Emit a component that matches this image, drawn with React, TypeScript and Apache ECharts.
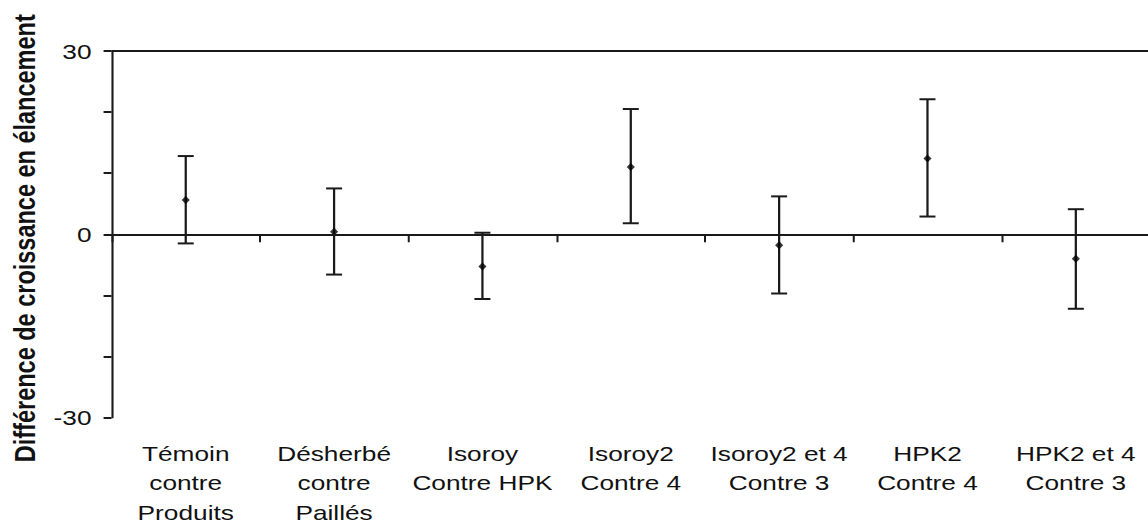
import React, { useEffect, useRef } from "react";
import * as echarts from "echarts";

const categories = [
  "Témoin\ncontre\nProduits",
  "Désherbé\ncontre\nPaillés",
  "Isoroy\nContre HPK",
  "Isoroy2\nContre 4",
  "Isoroy2 et 4\nContre 3",
  "HPK2\nContre 4",
  "HPK2 et 4\nContre 3",
];
const means = [5.6, 0.4, -5.3, 11.0, -1.8, 12.4, -4.0];
const lower = [-1.5, -6.6, -10.6, 1.8, -9.7, 2.9, -12.2];
const upper = [12.8, 7.5, 0.25, 20.5, 6.2, 22.1, 4.1];
const yTickLabels = [-30, 0, 30];
const refLines = [0, 30];
const yTitle = "Différence de croissance en élancement";

const STRETCH = 1.25;
const INK = "#1a1a1a";
const FONT = "'Liberation Sans', Arial, sans-serif";

export default function App() {
  const ref = useRef<HTMLDivElement>(null);
  useEffect(() => {
    if (!ref.current) return;
    const chart = echarts.init(ref.current, null, { renderer: "svg", width: 920, height: 527 });
    const errData = categories.map((_, i) => [i, lower[i], upper[i]]);
    chart.setOption({
      animation: false,
      grid: { left: 86.7, top: 51, width: 840, height: 372.5, containLabel: false },
      xAxis: {
        type: "category",
        data: categories,
        boundaryGap: true,
        axisLine: { show: true, lineStyle: { color: INK, width: 2 } },
        axisTick: { show: true, length: 8, lineStyle: { color: INK, width: 1.6 }, interval: 0 },
        axisLabel: {
          interval: 0,
          margin: 21,
          color: "#111",
          fontFamily: FONT,
          fontSize: 21,
          lineHeight: 29.5,
          align: "center",
        },
        splitLine: { show: false },
      },
      yAxis: {
        type: "value",
        min: -30,
        max: 30,
        interval: 10,
        name: yTitle,
        nameLocation: "middle",
        nameGap: 56,
        nameTextStyle: {
          color: "#111",
          fontFamily: FONT,
          fontSize: 23.5,
          fontWeight: "bold",
          padding: [0, 8, 0, 0],
        },
        axisLine: { show: true, lineStyle: { color: INK, width: 1.7 } },
        axisTick: { show: true, length: 6.4, lineStyle: { color: INK, width: 2 } },
        axisLabel: {
          margin: 16,
          color: "#111",
          fontFamily: FONT,
          fontSize: 21,
          formatter: (v: number) => (yTickLabels.includes(v) ? String(v) : ""),
        },
        splitLine: { show: false },
      },
      series: [
        {
          type: "custom",
          data: errData,
          renderItem: (params: any, api: any) => {
            const x = api.value(0);
            const lo = api.coord([x, api.value(1)]);
            const hi = api.coord([x, api.value(2)]);
            const half = 6.4;
            const style = { stroke: INK, lineWidth: 1.8 };
            const capStyle = { stroke: INK, lineWidth: 2 };
            return {
              type: "group",
              children: [
                { type: "line", shape: { x1: hi[0], y1: hi[1], x2: lo[0], y2: lo[1] }, style },
                { type: "line", shape: { x1: hi[0] - half, y1: hi[1], x2: hi[0] + half, y2: hi[1] }, style: capStyle },
                { type: "line", shape: { x1: lo[0] - half, y1: lo[1], x2: lo[0] + half, y2: lo[1] }, style: capStyle },
              ],
            };
          },
          z: 3,
        },
        {
          type: "scatter",
          data: means,
          symbol: "diamond",
          symbolSize: [6.5, 8],
          itemStyle: { color: "#000" },
          z: 4,
          markLine: {
            silent: true,
            symbol: ["none", "none"],
            label: { show: false },
            lineStyle: { color: INK, width: 2, type: "solid" },
            data: refLines.map((v) => ({ yAxis: v })),
          },
        },
      ],
    });
    return () => chart.dispose();
  }, []);
  return (
    <div style={{ position: "fixed", left: 0, top: 0, width: 1148, height: 527, overflow: "hidden", background: "#fff" }}>
      <div
        ref={ref}
        style={{ width: 920, height: 527, transform: `scaleX(${STRETCH})`, transformOrigin: "0 0" }}
      />
    </div>
  );
}
